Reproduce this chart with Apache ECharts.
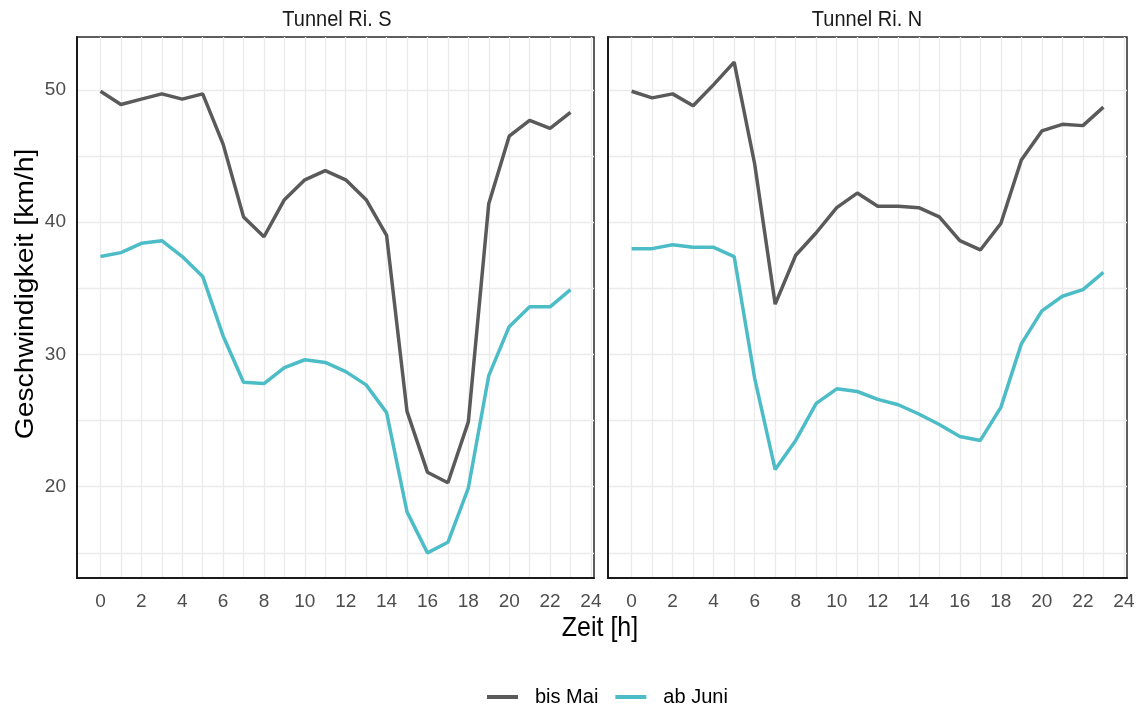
<!DOCTYPE html>
<html><head><meta charset="utf-8">
<script src="https://cdn.jsdelivr.net/npm/echarts@6/dist/echarts.min.js"></script>
<style>html,body{margin:0;padding:0;background:#fff}#c{width:1139px;height:706px}</style>
</head><body><div id="c"></div>
<script>
const hours = [0,1,2,3,4,5,6,7,8,9,10,11,12,13,14,15,16,17,18,19,20,21,22,23];
const panels = ["Tunnel Ri. S", "Tunnel Ri. N"];
const seriesNames = ["bis Mai", "ab Juni"];
const southBisMai = [49.9,48.9,49.3,49.7,49.3,49.7,45.9,40.4,38.9,41.7,43.2,43.9,43.2,41.7,39.0,25.7,21.1,20.3,24.9,41.4,46.5,47.7,47.1,48.3];
const southAbJuni = [37.4,37.7,38.4,38.6,37.4,35.9,31.4,27.9,27.8,29.0,29.6,29.4,28.7,27.7,25.6,18.1,15.0,15.8,19.9,28.4,32.1,33.6,33.6,34.9];
const northBisMai = [49.9,49.4,49.7,48.8,50.4,52.1,44.4,33.8,37.5,39.2,41.1,42.2,41.2,41.2,41.1,40.4,38.6,37.9,39.9,44.7,46.9,47.4,47.3,48.7];
const northAbJuni = [38.0,38.0,38.3,38.1,38.1,37.4,28.2,21.3,23.5,26.3,27.4,27.2,26.6,26.2,25.5,24.7,23.8,23.5,26.0,30.8,33.3,34.4,34.9,36.2];
const xGridValues = [0,1,2,3,4,5,6,7,8,9,10,11,12,13,14,15,16,17,18,19,20,21,22,23,24];
const xTickLabels = [0,2,4,6,8,10,12,14,16,18,20,22,24];
const yGridValues = [15,20,25,30,35,40,45,50];
const yTickLabels = [20,30,40,50];
const xTitle = "Zeit [h]";
const yTitle = "Geschwindigkeit [km/h]";

const colors = ["#5a5a5a", "#4cbcc7"];
const FONT = "Liberation Sans, Arial, sans-serif";
const pair = (xs, ys) => xs.map((x, i) => [x, ys[i]]);

const grids = [
  {left: 77, right: 545, top: 37, bottom: 128},
  {left: 608, right: 12, top: 37, bottom: 128}
].map(g => Object.assign(g, {show: true, borderColor: "#2a2a2a", borderWidth: 1.5, backgroundColor: "#fff"}));

function xAx(i) {
  return {
    type: "value", gridIndex: i, min: -1.15, max: 24.15,
    axisLine: {show: true, onZero: false, lineStyle: {color: "#1a1a1a", width: 2}},
    axisTick: {show: false, customValues: xGridValues},
    axisLabel: {customValues: xTickLabels, color: "#4d4d4d", fontSize: 19, fontFamily: FONT, margin: 14},
    splitLine: {show: true, lineStyle: {color: "#ebebeb", width: 1.3}}
  };
}
function yAx(i) {
  return {
    type: "value", gridIndex: i, min: 13.1, max: 54,
    axisLine: {show: true, onZero: false, lineStyle: {color: "#1a1a1a", width: 2}},
    axisTick: {show: false, customValues: yGridValues},
    axisLabel: {show: i === 0, customValues: yTickLabels, color: "#4d4d4d", fontSize: 19, fontFamily: FONT, margin: 11},
    splitLine: {show: true, lineStyle: {color: "#ebebeb", width: 1.3}}
  };
}

const data = [[southBisMai, southAbJuni], [northBisMai, northAbJuni]];
const series = [];
data.forEach((pd, pi) => pd.forEach((vals, si) => {
  series.push({
    name: seriesNames[si], type: "line", xAxisIndex: pi, yAxisIndex: pi,
    data: pair(hours, vals), showSymbol: false, symbol: "none", smooth: false,
    lineStyle: {color: colors[si], width: 3.5}, itemStyle: {color: colors[si]}, z: 3
  });
}));

const txt = (text, x, y, size, fill, extra) => Object.assign({
  type: "text", x: x, y: y, scaleY: 1.1, z: 10,
  style: {text: text, font: size + "px " + FONT, fill: fill, align: "center", verticalAlign: "middle"}
}, extra || {});

const chart = echarts.init(document.getElementById("c"), null, {renderer: "canvas"});
chart.setOption({
  animation: false,
  backgroundColor: "#fff",
  color: colors,
  grid: grids,
  xAxis: [xAx(0), xAx(1)],
  yAxis: [yAx(0), yAx(1)],
  graphic: [
    txt(panels[0], 337, 20, 20, "#1a1a1a"),
    txt(panels[1], 867, 20, 20, "#1a1a1a"),
    txt(xTitle, 600, 628, 25, "#000"),
    txt(yTitle, 26, 294, 25, "#000", {rotation: Math.PI / 2, scaleY: 1, scaleX: 1.13})
  ],
  legend: {
    top: 682, left: 482, itemWidth: 31, itemHeight: 4, itemGap: 17,
    icon: "rect",
    textStyle: {fontSize: 20, color: "#000", fontFamily: FONT, padding: [0, 0, 0, 12]},
    data: seriesNames
  },
  series: series
});
</script></body></html>
